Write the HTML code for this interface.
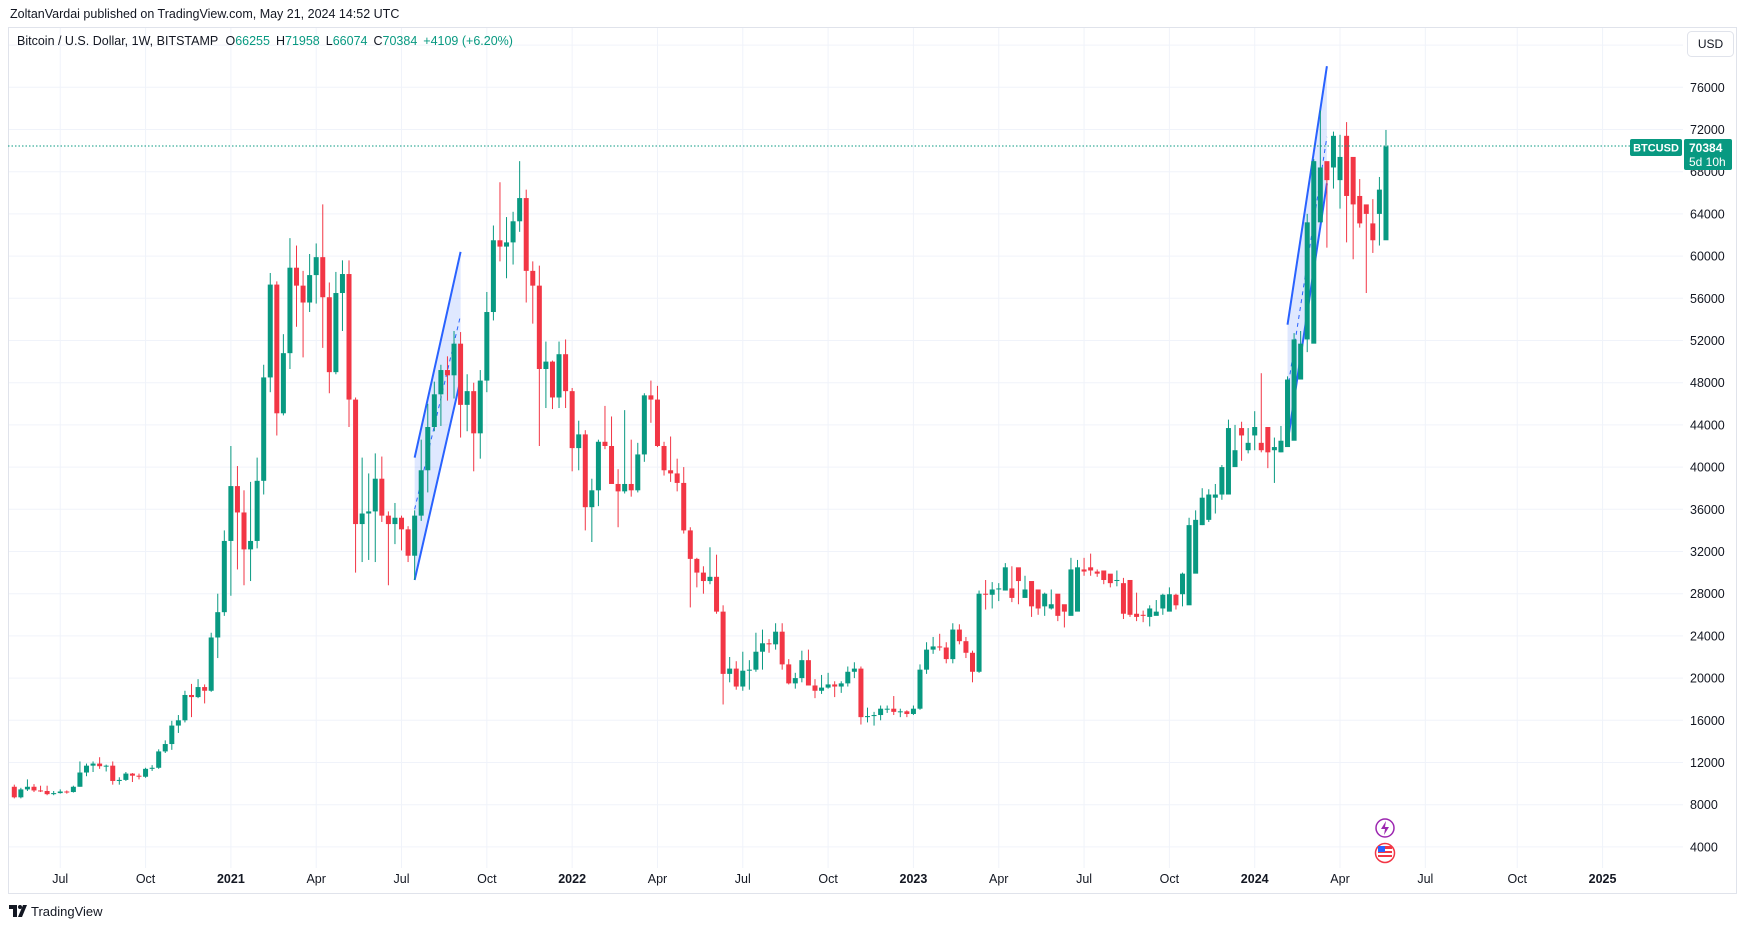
<!DOCTYPE html>
<html><head><meta charset="utf-8">
<style>
html,body{margin:0;padding:0;background:#fff;}
svg{display:block;font-family:"Liberation Sans",Arial,sans-serif;}
</style></head>
<body>
<svg id="chart" width="1747" height="929" viewBox="0 0 1747 929" xmlns="http://www.w3.org/2000/svg">
  <rect x="0" y="0" width="1747" height="929" fill="#ffffff"/>
  <text x="10" y="18" font-size="12.5" fill="#131722">ZoltanVardai published on TradingView.com, May 21, 2024 14:52 UTC</text>
  <rect x="8.5" y="27.5" width="1728" height="866" fill="none" stroke="#e0e3eb"/>
  <g id="grid"></g>
  <g id="drawings"></g>
  <g id="candles"></g>
  <g id="yaxis"></g>
  <g id="xaxis"></g>
  <text x="17" y="45" font-size="12.5" fill="#131722">Bitcoin / U.S. Dollar, 1W, BITSTAMP <tspan dx="4">O</tspan><tspan fill="#089981">66255</tspan><tspan dx="6">H</tspan><tspan fill="#089981">71958</tspan><tspan dx="6">L</tspan><tspan fill="#089981">66074</tspan><tspan dx="6">C</tspan><tspan fill="#089981">70384</tspan><tspan dx="6" fill="#089981">+4109 (+6.20%)</tspan></text>
  <g>
    <rect x="1687.5" y="31.5" width="46" height="25" rx="4" fill="#fff" stroke="#e0e3eb"/>
    <text x="1710.5" y="48" font-size="12" fill="#131722" text-anchor="middle">USD</text>
  </g>
  <line id="lastline" x1="8" x2="1630" y1="146" y2="146" stroke="#089981" stroke-dasharray="1.5 2" stroke-width="1"/>
  <g>
    <rect x="1630" y="139" width="52" height="17" rx="2" fill="#089981"/>
    <text x="1656" y="151.5" font-size="11" font-weight="bold" fill="#fff" text-anchor="middle">BTCUSD</text>
  </g>
  <g>
    <rect x="1684" y="139" width="48" height="31" rx="2" fill="#089981"/>
    <text x="1689" y="152" font-size="12" font-weight="bold" fill="#fff">70384</text>
    <text x="1689" y="166" font-size="12" fill="#fff">5d 10h</text>
  </g>
  <g>
    <circle cx="1385" cy="828" r="9" fill="#fff" stroke="#9c27b0" stroke-width="1.5"/>
    <path d="M1386 821 L1381 829 L1385 829 L1384 835 L1389 827 L1385 827 Z" fill="#9c27b0"/>
  </g>
  <g>
    <circle cx="1385" cy="853" r="9.5" fill="#fff" stroke="#f23645" stroke-width="1.5"/>
    <rect x="1378" y="846" width="14" height="3" fill="#f23645"/>
    <rect x="1378" y="851" width="14" height="2" fill="#f23645"/>
    <rect x="1378" y="855" width="14" height="2" fill="#f23645"/>
    <rect x="1378" y="846" width="7" height="6" fill="#2962ff"/>
  </g>
  <g>
    <path d="M9 905 H17 V917 H13 V909 H9 Z" fill="#131722"/>
    <circle cx="20" cy="907" r="2" fill="#131722"/>
    <path d="M23 905 H27 L22 917 H18 Z" fill="#131722"/>
    <text x="31" y="916" font-size="13" fill="#131722">TradingView</text>
  </g>
</svg>
<script>
const NS = "http://www.w3.org/2000/svg";
// Weekly candles (thousand USD), first week starting 2020-05-18
const opens = [
9.7,8.7,9.45,9.7,9.35,9.3,9.0,9.1,9.25,9.2,9.7,11.05,11.7,11.9,11.65,11.7,10.25,10.35,10.95,10.75,10.65,11.4,11.5,13.05,13.75,15.5,16.0,18.4,18.2,19.15,18.8,23.85,26.25,
33.0,38.2,35.7,32.2,33.0,38.7,48.5,57.3,45.1,50.8,58.9,57.2,55.6,58.2,59.9,56.1,49.0,56.5,58.3,46.4,34.6,35.6,35.8,38.9,35.4,34.6,35.2,34.1,31.6,35.4,39.7,43.8,46.9,49.2,48.7,51.7,45.9,47.2,43.2,48.2,54.7,61.5,60.9,61.3,63.3,65.5,58.6,57.2,49.3,50.0,46.6,50.7,
47.2,41.8,43.1,36.2,37.8,42.4,42.0,38.4,37.7,38.4,37.8,41.2,46.8,46.4,42.0,39.7,39.4,38.5,34.0,31.3,30.0,29.2,29.6,26.3,20.4,20.9,19.2,20.7,20.8,22.5,23.3,23.2,24.4,21.3,19.5,20.0,21.7,19.3,18.8,19.1,19.4,19.2,19.5,20.6,20.9,16.3,16.4,16.5,17.1,17.1,16.8,16.85,
16.6,17.1,20.8,22.7,23.0,22.9,21.8,24.6,23.5,22.4,20.6,28.0,27.9,28.4,28.3,28.5,30.5,27.6,29.2,28.4,26.8,26.6,28.0,27.0,25.9,26.3,30.3,30.5,30.1,30.2,29.9,29.3,29.0,29.3,26.1,26.0,25.8,25.9,26.6,26.3,27.9,27.95,26.9,29.9,34.5,35.0,37.1,37.4,37.4,40.0,43.7,41.6,43.0,
42.3,43.8,41.6,41.4,41.9,42.5,48.3,52.1,51.7,63.2,69.0,68.4,67.2,71.4,69.4,65.7,64.9,63.1,64.0,61.5,66.255];
const highs = [
9.9,9.6,10.4,9.95,9.8,9.8,9.3,9.45,9.35,9.8,12.1,11.9,12.1,12.5,11.8,12.1,10.6,11.1,11.0,10.95,11.5,11.75,13.25,14.1,15.95,16.5,18.8,19.45,19.9,19.4,24.3,28.0,34.0,
42.0,40.1,37.8,38.6,40.9,49.7,58.4,57.6,52.6,61.7,61.0,58.6,60.2,61.2,64.9,57.5,58.5,59.6,59.6,46.6,40.9,39.4,41.3,41.0,35.8,36.6,35.4,34.4,35.9,42.6,46.0,48.1,49.7,50.5,52.9,52.8,48.8,48.0,49.2,56.6,62.9,67.0,63.7,64.2,69.0,66.3,59.5,59.1,51.9,50.1,51.9,52.1,
47.5,44.4,43.5,38.9,42.6,45.8,44.8,39.8,45.4,42.6,42.3,47.0,48.2,47.7,42.4,42.9,40.8,40.0,34.3,31.4,30.6,32.4,31.7,26.9,22.0,21.6,22.5,21.7,24.3,24.6,23.7,25.2,25.2,21.8,20.5,22.6,22.7,19.9,20.3,20.5,19.7,19.7,21.1,21.5,21.1,17.2,16.8,17.4,17.4,18.3,17.1,16.95,
17.4,21.3,23.4,23.9,24.2,23.4,25.2,25.1,23.9,22.6,28.3,29.3,29.1,29.0,30.9,30.6,29.9,29.7,28.9,27.6,28.1,28.4,27.3,26.7,31.4,31.2,31.4,31.8,30.3,30.1,29.8,30.2,29.5,26.8,28.1,26.4,26.9,27.4,28.0,28.6,28.0,30.0,35.2,35.9,38.0,37.9,38.4,40.2,44.5,44.0,44.3,43.7,
45.3,48.9,43.4,42.8,43.9,48.6,52.7,52.9,64.0,69.2,73.8,68.9,71.8,71.5,72.7,67.0,67.3,64.6,65.4,67.5,71.958];
const lows = [
8.6,8.6,9.3,9.2,9.2,8.9,8.9,9.05,9.05,9.15,9.7,10.7,11.1,11.4,11.15,9.9,9.9,10.25,10.15,10.4,10.55,11.2,11.4,12.9,13.2,14.8,15.8,16.3,18.1,17.6,18.7,21.9,25.9,
27.8,30.3,28.8,29.2,32.3,37.4,47.1,43.0,44.9,49.3,53.3,50.4,54.7,55.5,51.3,47.0,48.8,52.9,43.8,30.0,31.0,31.2,31.0,34.8,28.8,32.7,32.1,31.0,29.3,34.9,37.6,43.4,43.9,46.3,46.5,42.8,43.4,39.6,40.8,47.1,53.9,59.5,57.9,59.2,62.3,55.6,53.6,42.0,45.6,45.5,45.6,45.6,
39.6,39.7,34.0,32.9,36.3,41.7,39.5,34.3,37.5,37.2,37.6,40.5,44.2,41.9,39.2,38.6,37.7,33.7,26.7,28.6,28.0,28.9,26.1,17.5,19.6,18.9,18.8,18.9,20.6,20.8,22.4,22.7,20.8,19.4,19.0,19.6,19.3,18.1,18.5,19.0,18.2,18.6,19.2,20.0,15.6,15.8,15.5,16.0,16.7,16.5,16.3,16.3,
16.5,17.0,20.4,22.3,22.6,21.4,21.4,23.2,21.9,19.6,20.5,26.5,26.6,27.3,28.3,27.2,27.0,27.7,25.8,26.0,25.9,26.5,25.4,24.8,26.2,29.3,29.7,29.7,29.6,28.9,28.6,28.7,25.6,25.8,25.4,25.3,24.9,26.1,26.0,27.2,26.5,26.8,29.9,33.4,34.5,34.8,35.6,36.9,39.9,40.2,40.6,41.3,
41.6,41.4,39.9,38.5,41.4,42.3,47.9,50.7,50.9,61.4,64.5,60.8,66.4,64.5,61.3,59.7,62.7,56.5,60.3,61.0,66.074];
const closes = [
8.7,9.45,9.7,9.35,9.3,9.0,9.1,9.25,9.2,9.7,11.05,11.7,11.9,11.65,11.7,10.25,10.35,10.95,10.75,10.65,11.4,11.5,13.05,13.75,15.5,16.0,18.4,18.2,19.15,18.8,23.85,26.25,33.0,
38.2,35.7,32.2,33.0,38.7,48.5,57.3,45.1,50.8,58.9,57.2,55.6,58.2,59.9,56.1,49.0,56.5,58.3,46.4,34.6,35.6,35.8,38.9,35.4,34.6,35.2,34.1,31.6,35.4,39.7,43.8,46.9,49.2,48.7,51.7,45.9,47.2,43.2,48.2,54.7,61.5,60.9,61.3,63.3,65.5,58.6,57.2,49.3,50.0,46.6,50.7,47.2,
41.8,43.1,36.2,37.8,42.4,42.0,38.4,37.7,38.4,37.8,41.2,46.8,46.4,42.0,39.7,39.4,38.5,34.0,31.3,30.0,29.2,29.6,26.3,20.4,20.9,19.2,20.7,20.8,22.5,23.3,23.2,24.4,21.3,19.5,20.0,21.7,19.3,18.8,19.1,19.4,19.2,19.5,20.6,20.9,16.3,16.4,16.5,17.1,17.1,16.8,16.85,16.6,
17.1,20.8,22.7,23.0,22.9,21.8,24.6,23.5,22.4,20.6,28.0,27.9,28.4,28.5,30.5,27.6,29.2,28.4,26.8,26.6,28.0,27.0,25.9,26.3,30.3,30.5,30.1,30.2,29.9,29.3,29.0,29.3,26.1,26.0,25.8,25.9,26.6,26.3,27.9,27.95,26.9,29.9,34.5,35.0,37.1,37.4,37.4,40.0,43.7,41.6,43.0,42.3,
43.8,41.6,41.4,41.9,42.5,48.3,52.1,51.7,63.2,69.0,68.4,67.2,71.4,69.4,65.7,64.9,63.1,64.0,61.5,66.3,70.384];
const priceTicks = [4,8,12,16,20,24,28,32,36,40,44,48,52,56,60,64,68,72,76];
const monthNames = ["Jan","Feb","Mar","Apr","May","Jun","Jul","Aug","Sep","Oct","Nov","Dec"];
// channel drawings: [week index, price(k)] anchors
const channel2021Upper = [[61.0,40.9],[68.0,60.4]];
const channel2021Lower = [[61.0,29.3],[68.0,48.3]];
const channel2021Mid = [[61.0,36.0],[68.0,54.4]];
const channel2024Upper = [[194,53.5],[200,78.0]];
const channel2024Lower = [[194,42.3],[200,66.9]];
const channel2024Mid = [[194,47.3],[200,71.3]];

const X0 = 14.3, DX = 6.563, YTOP = 87.3, KPX = 10.55, RIGHT = 1683;
function xScale(i){ return X0 + i*DX; }
function yScale(p){ return YTOP + (76 - p)*KPX; }
function mk(tag, attrs, parent){ const e=document.createElementNS(NS,tag); for(const k in attrs) e.setAttribute(k,attrs[k]); parent.appendChild(e); return e; }

const grid = document.getElementById('grid');
const yaxis = document.getElementById('yaxis');
const xaxis = document.getElementById('xaxis');
const candlesG = document.getElementById('candles');
const drawG = document.getElementById('drawings');

[...priceTicks, 80].forEach(p => {
  const l = mk('line',{x1:9,x2:RIGHT,y1:yScale(p),y2:yScale(p),stroke:'#f0f3fa','stroke-width':1},grid);
  
  
});
priceTicks.forEach(p => {
  const t = mk('text',{x:1690,y:yScale(p)+4.5,'font-size':12.5,fill:'#131722'},yaxis);
  t.textContent = String(p*1000);
  
  
});

const start = Date.UTC(2020,4,18);
let prevM = -1;
for(let i=0;i<260;i++){
  const d = new Date(start + i*7*86400000);
  const m = d.getUTCMonth();
  const x = xScale(i);
  if(x > RIGHT-10) break;
  if(m !== prevM && prevM !== -1 && m % 3 === 0){
    const gl = mk('line',{x1:x,x2:x,y1:28,y2:868,stroke:'#f0f3fa','stroke-width':1},grid);
    
    
    const isYear = m===0;
    const t = mk('text',{x:x,y:883,'font-size':12.5,fill:'#131722','text-anchor':'middle','font-weight':isYear?'bold':'normal'},xaxis);
    t.textContent = isYear ? String(d.getUTCFullYear()) : monthNames[m];
    
    
  }
  prevM = m;
}

function channel(up, lo, mid, name){
  const pts = [up[0],up[1],lo[1],lo[0]].map(a=>xScale(a[0])+','+yScale(a[1])).join(' ');
  const poly = mk('polygon',{points:pts,fill:'rgba(41,98,255,0.15)'},drawG);
  
  
  [up,lo].forEach((ln,k)=>{
    const l = mk('line',{x1:xScale(ln[0][0]),y1:yScale(ln[0][1]),x2:xScale(ln[1][0]),y2:yScale(ln[1][1]),stroke:'#2962ff','stroke-width':2},drawG);
    
    
  });
  const ml = mk('line',{x1:xScale(mid[0][0]),y1:yScale(mid[0][1]),x2:xScale(mid[1][0]),y2:yScale(mid[1][1]),stroke:'#2962ff','stroke-width':1,'stroke-dasharray':'4 4'},drawG);
  
  
}
channel(channel2021Upper, channel2021Lower, channel2021Mid, 'channel-2021');
channel(channel2024Upper, channel2024Lower, channel2024Mid, 'channel-2024');

for(let i=0;i<closes.length;i++){
  const o=opens[i], h=highs[i], lo=lows[i], c=closes[i];
  const up = c >= o;
  const col = up ? '#089981' : '#f23645';
  const x = xScale(i);
  const g = mk('g',{},candlesG);
  
  
  mk('line',{x1:x,x2:x,y1:yScale(h),y2:yScale(lo),stroke:col,'stroke-width':1},g);
  const yt = yScale(Math.max(o,c)), yb = yScale(Math.min(o,c));
  mk('rect',{x:x-2.5,y:yt,width:5,height:Math.max(1,yb-yt),fill:col},g);
}
</script>
</body></html>
